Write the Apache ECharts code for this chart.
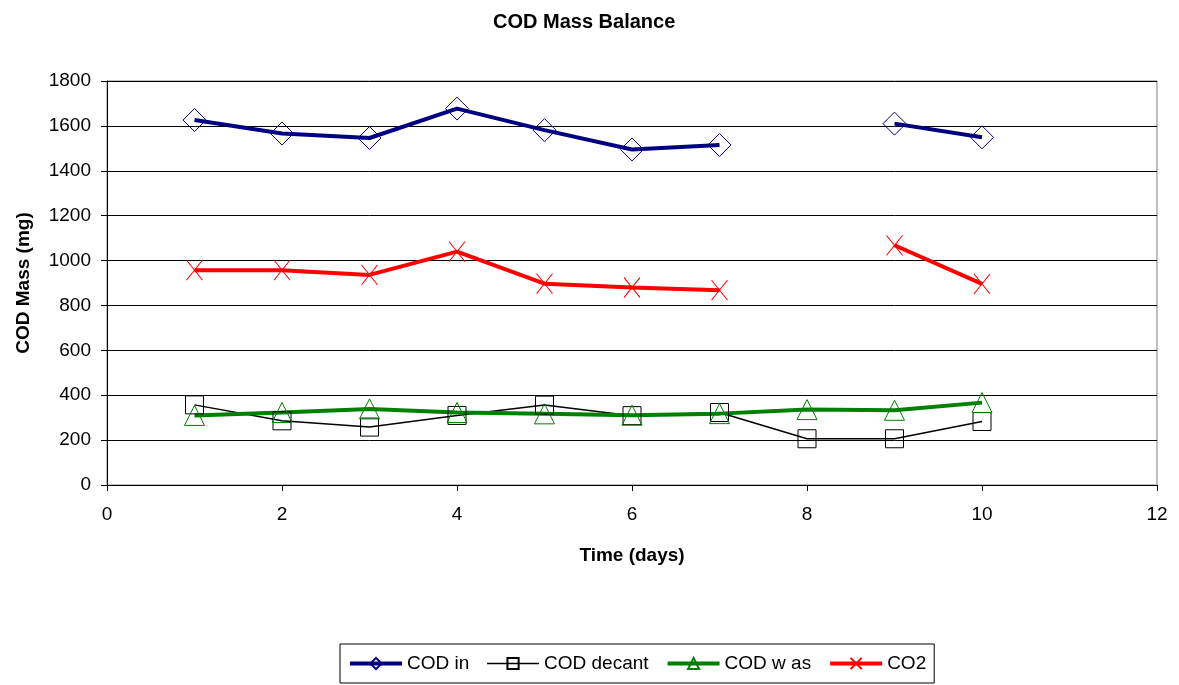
<!DOCTYPE html>
<html>
<head>
<meta charset="utf-8">
<title>COD Mass Balance</title>
<script src="https://cdn.jsdelivr.net/npm/echarts@6/dist/echarts.min.js"></script>
<style>
  html, body { margin: 0; padding: 0; background: #fff; }
  #chart { width: 1179px; height: 685px; }
</style>
</head>
<body>
<div id="chart"></div>
<script>
// data, '-' = no value that day
var days = [1, 2, 3, 4, 5, 6, 7, 8, 9, 10];
var codIn = [1626, 1566, 1546, 1677, 1581, 1495, 1515, '-', 1610, 1549];
var codDecant = [357, 286, 258, 310, 356, 309, 323, 206, 206, 283];
var codWas = [310, 323, 339, 323, 317, 311, 318, 336, 333, 367];
var co2 = [957, 957, 936, 1040, 897, 880, 868, '-', 1068, 896];
var xTicks = [0, 2, 4, 6, 8, 10, 12];
var yTicks = [0, 200, 400, 600, 800, 1000, 1200, 1400, 1600, 1800];

var font = 'Liberation Sans, Arial, sans-serif';

function pairs(vals) {
  return days.map(function (d, i) { return [d, vals[i]]; });
}

var crossPath = 'path://M0,0L10,10M10,0L0,10';

var myChart = echarts.init(document.getElementById('chart'));
var option = {
  animation: false,
  backgroundColor: '#fff',
  textStyle: { fontFamily: font, color: '#000' },
  title: {
    text: 'COD Mass Balance',
    left: 488,
    top: 7,
    textStyle: { fontFamily: font, fontSize: 20, fontWeight: 'bold', color: '#000' }
  },
  legend: {
    left: 340,
    top: 644,
    padding: [10, 8, 10, 8],
    borderColor: '#000',
    borderWidth: 1,
    itemWidth: 52,
    itemHeight: 14,
    itemGap: 17,
    textStyle: { fontFamily: font, fontSize: 19, color: '#000' },
    data: [
      { name: 'COD in', lineStyle: { width: 4 } },
      { name: 'COD decant', lineStyle: { width: 1.5 } },
      { name: 'COD w as', lineStyle: { width: 4 } },
      { name: 'CO2', lineStyle: { width: 4 } }
    ]
  },
  grid: {
    left: 107,
    right: 22,
    top: 81,
    bottom: 200,
    show: true,
    borderColor: '#808080',
    borderWidth: 1
  },
  xAxis: {
    type: 'value',
    min: xTicks[0],
    max: xTicks[xTicks.length - 1],
    interval: 2,
    name: 'Time (days)',
    nameLocation: 'middle',
    nameGap: 61,
    nameTextStyle: { fontFamily: font, fontSize: 19, fontWeight: 'bold', color: '#000' },
    axisLine: { lineStyle: { color: '#000', width: 1 } },
    axisTick: { length: 6, lineStyle: { color: '#000' } },
    axisLabel: { fontFamily: font, fontSize: 19, color: '#000', margin: 20 },
    splitLine: { show: false }
  },
  yAxis: {
    type: 'value',
    min: yTicks[0],
    max: yTicks[yTicks.length - 1],
    interval: 200,
    name: 'COD Mass (mg)',
    nameLocation: 'middle',
    nameGap: 74,
    nameTextStyle: { fontFamily: font, fontSize: 19, fontWeight: 'bold', color: '#000' },
    axisLine: { show: true, lineStyle: { color: '#000', width: 1 } },
    axisTick: { show: true, length: 6, lineStyle: { color: '#000' } },
    axisLabel: {
      fontFamily: font, fontSize: 19, color: '#000', margin: 16,
      formatter: function (v) { return String(v); }
    },
    splitLine: { show: true, lineStyle: { color: '#000', width: 1 } }
  },
  series: [
    {
      name: 'COD in',
      type: 'line',
      data: pairs(codIn),
      connectNulls: false,
      symbol: 'diamond',
      symbolSize: 23,
      lineStyle: { color: '#000080', width: 4 },
      itemStyle: { color: 'rgba(0,0,0,0)', borderColor: '#000080', borderWidth: 1 }
    },
    {
      name: 'COD decant',
      type: 'line',
      data: pairs(codDecant),
      symbol: 'rect',
      symbolSize: 18,
      lineStyle: { color: '#000', width: 1.5 },
      itemStyle: { color: 'rgba(0,0,0,0)', borderColor: '#000', borderWidth: 1 }
    },
    {
      name: 'COD w as',
      type: 'line',
      data: pairs(codWas),
      symbol: 'triangle',
      symbolSize: [20, 20],
      lineStyle: { color: '#008000', width: 4 },
      itemStyle: { color: 'rgba(0,0,0,0)', borderColor: '#008000', borderWidth: 1 }
    },
    {
      name: 'CO2',
      type: 'line',
      data: pairs(co2),
      connectNulls: false,
      symbol: crossPath,
      symbolSize: [16, 20],
      lineStyle: { color: '#ff0000', width: 4 },
      itemStyle: { color: 'rgba(0,0,0,0)', borderColor: '#ff0000', borderWidth: 1 }
    }
  ]
};

myChart.setOption(option);
</script>
</body>
</html>
